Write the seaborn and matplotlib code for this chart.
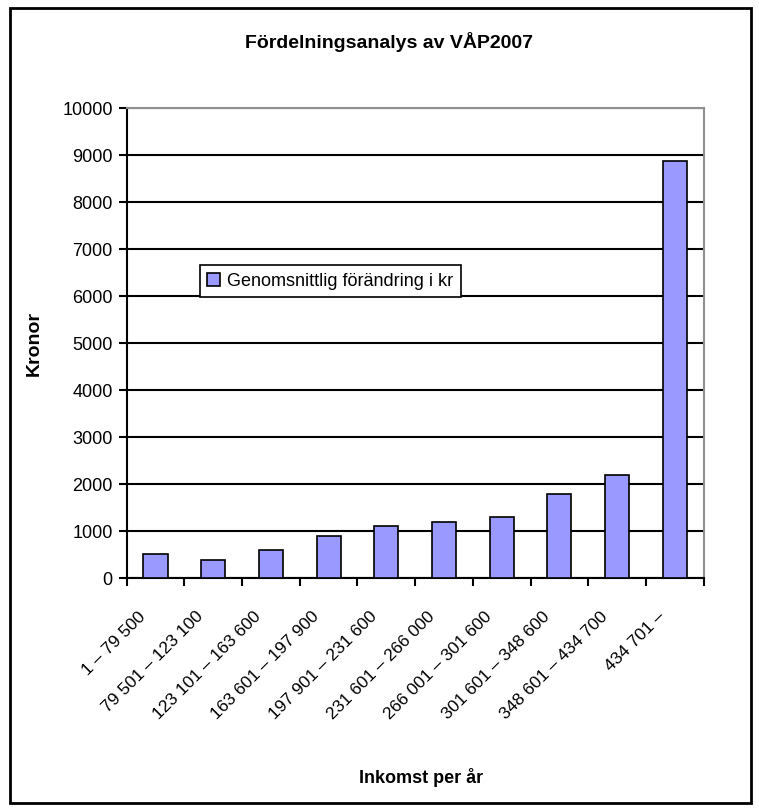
import matplotlib
matplotlib.use('Agg')
import matplotlib.pyplot as plt
import seaborn as sns
import pandas as pd
from matplotlib.patches import Rectangle
from matplotlib.transforms import ScaledTranslation

# data
categories = ["1 – 79 500", "79 501 – 123 100", "123 101 – 163 600",
              "163 601 – 197 900", "197 901 – 231 600", "231 601 – 266 000",
              "266 001 – 301 600", "301 601 – 348 600", "348 601 – 434 700",
              "434 701 –"]
values = [510, 385, 600, 900, 1110, 1200, 1290, 1795, 2185, 8870]
series_name = "Genomsnittlig förändring i kr"
y_ticks = list(range(0, 10001, 1000))

sns.set_style("white")
plt.rcParams['font.family'] = ['Liberation Sans', 'DejaVu Sans']
plt.rcParams['text.color'] = 'black'
plt.rcParams['axes.labelcolor'] = 'black'
plt.rcParams['xtick.color'] = 'black'
plt.rcParams['ytick.color'] = 'black'

df = pd.DataFrame({"Inkomst": categories, "Kronor": values})

fig = plt.figure(figsize=(7.59, 8.10), dpi=100)
ax = fig.add_axes([0.167, 0.2864, 0.760, 0.5802])

sns.barplot(data=df, x="Inkomst", y="Kronor", color="#9999FF", saturation=1,
            width=0.42, edgecolor="black", linewidth=1.2, label=series_name,
            ax=ax, zorder=3)

ax.set_ylim(0, 10000)
ax.set_xlim(-0.5, len(categories) - 0.5)
ax.set_yticks(y_ticks)
ax.set_yticklabels([str(t) for t in y_ticks], fontsize=13)
ax.yaxis.grid(True, color="black", linewidth=1.5, zorder=0)
ax.set_axisbelow(True)

# labels at category centres, tick marks at category boundaries
ax.set_xticks(range(len(categories)))
ax.set_xticklabels(categories, fontsize=12.5, rotation=45, ha="right",
                   va="center", rotation_mode="anchor")
ax.tick_params(axis="x", which="major", length=0, pad=26)
ax.set_xticks([i - 0.5 for i in range(len(categories) + 1)], minor=True)
ax.tick_params(axis="x", which="minor", length=6, width=1.5, color="black",
               direction="out", bottom=True)
ax.tick_params(axis="y", length=6, width=1.5, color="black", direction="out",
               left=True, pad=4)
for lbl in ax.get_xticklabels():
    lbl.set_transform(lbl.get_transform() + ScaledTranslation(-12 / 100, 0, fig.dpi_scale_trans))

for s in ["left", "bottom"]:
    ax.spines[s].set_color("black")
    ax.spines[s].set_linewidth(1.5)
for s in ["top", "right"]:
    ax.spines[s].set_color("#909090")
    ax.spines[s].set_linewidth(1.5)

ax.set_xlabel("Inkomst per år", fontsize=13, fontweight="bold", labelpad=0)
ax.xaxis.set_label_coords(0.51, -0.405)
ax.set_ylabel("Kronor", fontsize=14, fontweight="bold")
ax.yaxis.set_label_coords(-0.145, 0.5)

fig.text(0.512, 0.948, "Fördelningsanalys av VÅP2007", fontsize=14,
         fontweight="bold", ha="center", va="center")

leg = ax.legend(loc="center", bbox_to_anchor=(0.353, 0.632), fontsize=13,
                frameon=True, fancybox=False, edgecolor="black", framealpha=1,
                handlelength=0.7, handleheight=0.7, handletextpad=0.4,
                borderpad=0.4)
leg.get_frame().set_linewidth(1.2)

fig.patches.append(Rectangle((0.013, 0.009), 0.977, 0.981, transform=fig.transFigure,
                             fill=False, edgecolor="black", linewidth=2))

fig.savefig("out.png", dpi=100)
